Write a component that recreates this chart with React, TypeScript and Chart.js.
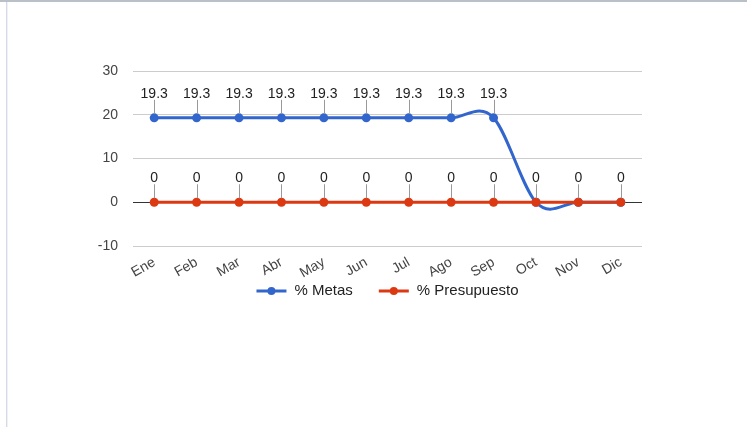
import React, { useEffect, useRef } from "react";
import { Chart, registerables } from "chart.js";

Chart.register(...registerables);

const categories = ["Ene", "Feb", "Mar", "Abr", "May", "Jun", "Jul", "Ago", "Sep", "Oct", "Nov", "Dic"];
const metas = [19.3, 19.3, 19.3, 19.3, 19.3, 19.3, 19.3, 19.3, 19.3, 0, 0, 0];
const presupuesto = [0, 0, 0, 0, 0, 0, 0, 0, 0, 0, 0, 0];
const seriesNames = ["% Metas", "% Presupuesto"];
const seriesColors = ["#3366cc", "#dc3912"];
const yMin = -10;
const yMax = 30;
const yStep = 10;

const FONT = "'Liberation Sans', Arial, sans-serif";

// Google-style "function" curve: Catmull-Rom tangents with control points at 1/3 of horizontal spacing
const curvePlugin = {
  id: "googleCurve",
  beforeDatasetsDraw(chart: any) {
    chart.data.datasets.forEach((_d: any, di: number) => {
      const meta = chart.getDatasetMeta(di);
      const pts = meta.data;
      const n = pts.length;
      for (let i = 0; i < n; i++) {
        const p = pts[i];
        const prev = pts[i - 1];
        const next = pts[i + 1];
        let m = 0;
        if (prev && next) m = (next.y - prev.y) / (next.x - prev.x);
        const dxPrev = prev ? (p.x - prev.x) / 3 : 0;
        const dxNext = next ? (next.x - p.x) / 3 : 0;
        const k = 1.1;
        p.cp1x = p.x - dxPrev;
        p.cp1y = p.y - m * dxPrev * k;
        p.cp2x = p.x + dxNext;
        p.cp2y = p.y + m * dxNext * k;
      }
      if (meta.dataset) {
        meta.dataset._pointsUpdated = true;
        meta.dataset._path = undefined;
      }
    });
  },
};

const annotationPlugin = {
  id: "annotations",
  afterDatasetsDraw(chart: any) {
    const ctx = chart.ctx;
    const drawn = new Set<string>();
    ctx.save();
    ctx.font = `14px ${FONT}`;
    ctx.textAlign = "center";
    ctx.textBaseline = "middle";
    for (let di = chart.data.datasets.length - 1; di >= 0; di--) {
      const meta = chart.getDatasetMeta(di);
      const data = chart.data.datasets[di].data;
      meta.data.forEach((pt: any, i: number) => {
        const key = `${Math.round(pt.x)},${Math.round(pt.y)}`;
        if (drawn.has(key)) return;
        drawn.add(key);
        ctx.strokeStyle = "#999999";
        ctx.lineWidth = 1;
        ctx.beginPath();
        ctx.moveTo(Math.round(pt.x) + 0.5, pt.y - 18);
        ctx.lineTo(Math.round(pt.x) + 0.5, pt.y - 4);
        ctx.stroke();
        ctx.fillStyle = "#222222";
        ctx.fillText(String(data[i]), pt.x, pt.y - 24);
      });
    }
    ctx.restore();
  },
};

const legendPlugin = {
  id: "customLegend",
  afterDraw(chart: any) {
    const ctx = chart.ctx;
    const area = chart.chartArea;
    ctx.save();
    ctx.font = `15px ${FONT}`;
    ctx.textBaseline = "middle";
    ctx.textAlign = "left";
    const lineW = 30;
    const gap = 8;
    const itemGap = 26;
    const widths = seriesNames.map((n) => lineW + gap + ctx.measureText(n).width);
    const total = widths.reduce((a, b) => a + b, 0) + itemGap * (widths.length - 1);
    let x = (area.left + area.right) / 2 - total / 2;
    const y = 291;
    seriesNames.forEach((name, i) => {
      ctx.strokeStyle = seriesColors[i];
      ctx.lineWidth = 3;
      ctx.beginPath();
      ctx.moveTo(x, y);
      ctx.lineTo(x + lineW, y);
      ctx.stroke();
      ctx.fillStyle = seriesColors[i];
      ctx.beginPath();
      ctx.arc(x + lineW / 2, y, 4, 0, Math.PI * 2);
      ctx.fill();
      ctx.fillStyle = "#222222";
      ctx.fillText(name, x + lineW + gap, y);
      x += widths[i] + itemGap;
    });
    ctx.restore();
  },
};

export default function App() {
  const canvasRef = useRef<HTMLCanvasElement | null>(null);

  useEffect(() => {
    if (!canvasRef.current) return;
    const chart = new Chart(canvasRef.current, {
      type: "line",
      data: {
        labels: categories,
        datasets: [
          {
            label: seriesNames[0],
            data: metas,
            borderColor: seriesColors[0],
            backgroundColor: seriesColors[0],
            borderWidth: 3,
            pointRadius: 4.5,
            pointBorderWidth: 0,
            pointHoverRadius: 4.5,
            tension: 0.4,
            order: 2,
          },
          {
            label: seriesNames[1],
            data: presupuesto,
            borderColor: seriesColors[1],
            backgroundColor: seriesColors[1],
            borderWidth: 3,
            pointRadius: 4.5,
            pointBorderWidth: 0,
            pointHoverRadius: 4.5,
            tension: 0.4,
            order: 1,
          },
        ],
      },
      options: {
        responsive: false,
        animation: false,
        events: [],
        layout: { padding: { left: 89, right: 105, top: 71, bottom: 131 } },
        plugins: {
          legend: { display: false },
          tooltip: { enabled: false },
          title: { display: false },
        },
        scales: {
          x: {
            type: "category",
            offset: true,
            grid: { display: false },
            border: { display: false },
            ticks: {
              minRotation: 30,
              maxRotation: 30,
              autoSkip: false,
              padding: 0,
              color: "#444444",
              font: { family: FONT, size: 14 },
            },
            afterFit: (s: any) => {
              s.height = 50;
            },
          },
          y: {
            min: yMin,
            max: yMax,
            ticks: {
              stepSize: yStep,
              padding: 15,
              color: "#444444",
              font: { family: FONT, size: 14 },
            },
            grid: {
              drawTicks: false,
              color: (c: any) => (c.tick && c.tick.value === 0 ? "#333333" : "#cccccc"),
              lineWidth: 1,
            },
            border: { display: false },
            afterFit: (s: any) => {
              s.width = 44;
            },
          },
        },
      },
      plugins: [curvePlugin, annotationPlugin, legendPlugin],
    });
    return () => chart.destroy();
  }, []);

  return (
    <div
      style={{
        position: "fixed",
        left: 0,
        top: 0,
        width: 747,
        height: 427,
        background: "#ffffff",
        overflow: "hidden",
      }}
    >
      <div style={{ position: "absolute", left: 0, top: 0, width: 747, height: 2, background: "#b9c0c7" }} />
      <div style={{ position: "absolute", left: 6, top: 2, width: 1, height: 425, background: "#d3dbe6" }} />
      <div style={{ position: "absolute", left: 7, top: 2, width: 1, height: 425, background: "#eef2f7" }} />
      <canvas
        ref={canvasRef}
        width={747}
        height={427}
        style={{ position: "absolute", left: 0, top: 0, width: 747, height: 427 }}
      />
    </div>
  );
}
